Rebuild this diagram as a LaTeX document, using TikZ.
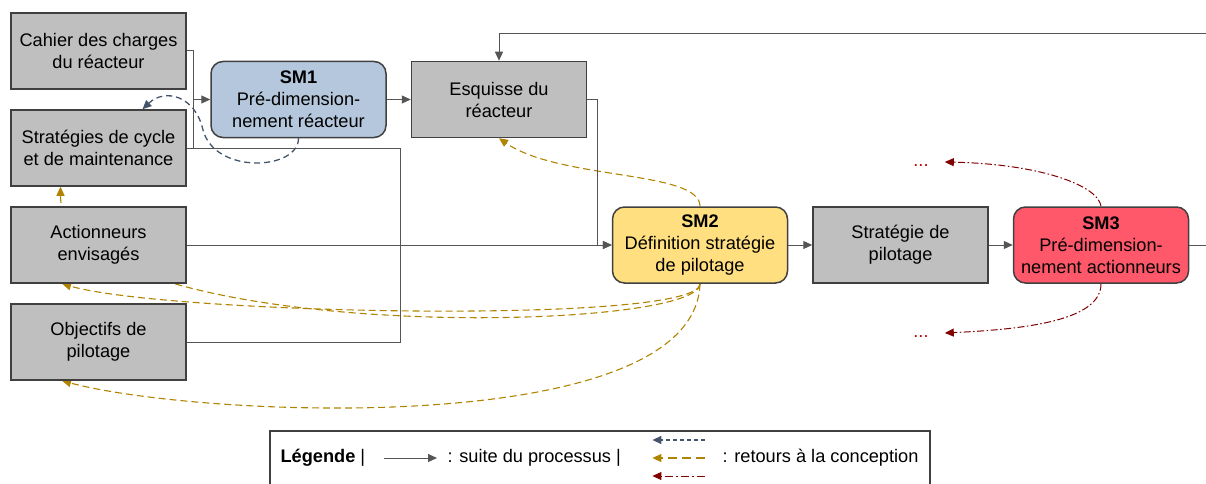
\documentclass[tikz,border=0pt]{standalone}
\usepackage{fontspec}
\setmainfont{Liberation Sans}
\usetikzlibrary{positioning, arrows.meta, backgrounds}

\definecolor{boxgray}{RGB}{191,191,191}
\definecolor{boxline}{RGB}{64,64,64}
\definecolor{sm1blue}{RGB}{180,199,220}
\definecolor{sm2yellow}{RGB}{255,223,128}
\definecolor{sm3red}{RGB}{255,88,106}
\definecolor{procline}{RGB}{85,85,85}
\definecolor{retourblue}{RGB}{68,84,106}
\definecolor{retourgold}{RGB}{176,132,0}
\definecolor{retourred}{RGB}{128,0,0}
\definecolor{dotsred}{RGB}{192,0,0}

\begin{document}
\begin{tikzpicture}[x=1pt, y=-1pt, node distance=19.5pt and 24pt,
        every node/.style={font=\fontsize{18.2}{22}\selectfont},
        >={Triangle[length=9pt, width=8pt]},
        bloc/.style={draw=boxline, line width=1.5pt, rectangle, align=center, fill=boxgray, minimum width=175pt, minimum height=76pt},
        sousmod/.style={bloc, rounded corners=12pt},
        suite/.style={draw=procline, line width=1pt},
        retourA/.style={draw=retourblue, line width=1.3pt, dash pattern=on 6pt off 4pt},
        retourB/.style={draw=retourgold, line width=1.1pt, dash pattern=on 7pt off 4pt},
        retourC/.style={draw=retourred, line width=1pt, dash pattern=on 7pt off 2.5pt on 1.5pt off 2.5pt}]
    \useasboundingbox (0,0) rectangle (1206,484);

    % Donnees d'entree
    \node (Cahier) [bloc] at (98.5,51) {Cahier des charges\\du réacteur};
    \node (Strategies) [bloc, below=of Cahier] {Stratégies de cycle\\et de maintenance};
    \node (Actionneurs) [bloc, below=of Strategies] {Actionneurs\\envisagés};
    \node (Objectifs) [bloc, below=of Actionneurs] {Objectifs de\\pilotage};

    % Sous-modeles et resultats
    \node (SM1) [sousmod, fill=sm1blue] at (298.5,99.5) {\textbf{SM1}\\Pré-dimension-\\nement réacteur};
    \node (Esquisse) [bloc, right=of SM1] {Esquisse du\\réacteur};
    \node (SM2) [sousmod, fill=sm2yellow] at (700,245) {\textbf{SM2}\\Définition stratégie\\de pilotage};
    \node (Pilotage) [bloc, right=of SM2] {Stratégie de\\pilotage};
    \node (SM3) [sousmod, fill=sm3red, right=of Pilotage] {\textbf{SM3}\\Pré-dimension-\\nement actionneurs};

    % Suites inconnues
    \node (DotsHaut) [text=dotsred, inner xsep=16pt] at (921,162) {\strut...};
    \node (DotsBas) [text=dotsred, inner xsep=16pt] at (921,333) {\strut...};

    % Suite du processus
    \coordinate (Jonction) at (400,245);
    \draw[->, suite] (Cahier.east) -- ++(7,0) |- (SM1.west);
    \draw[suite] (Strategies.east) -- ++(7,0) |- (SM1.west);
    \draw[->, suite] (SM1) -- (Esquisse);
    \draw[->, suite] (Esquisse.east) -- ++(10,0) |- (SM2.west);
    \draw[->, suite] (Actionneurs) -- (SM2);
    \draw[suite] (Strategies.east) -| (Jonction);
    \draw[suite] (Objectifs.east) -| (Jonction);
    \draw[->, suite] (SM2) -- (Pilotage);
    \draw[->, suite] (Pilotage) -- (SM3);
    \draw[->, suite] (SM3.east) -- ++(40,0) |- ([yshift=27pt]Esquisse.north) -- (Esquisse.north);

    % Retours a la conception
    \begin{scope}[on background layer]
        \draw[->, retourA] (SM1.south) .. controls +(0,32) and +(12,45) .. (203,130) .. controls +(-8,-35) and +(22,-21) .. ([xshift=44pt]Strategies.north);
        \draw[->, retourB] (SM2.north) .. controls +(0,-36) and +(61,42) .. (Esquisse.south);
        \draw[->, retourB] (SM2.south) .. controls +(0,51) and +(0,158) .. ([xshift=-38pt]Strategies.south);
        \draw[->, retourB] (SM2.south) .. controls +(0,41) and +(108,31) .. ([xshift=-36.5pt]Actionneurs.south);
        \draw[->, retourB] (SM2.south) .. controls +(-5,156) and +(138,37) .. ([xshift=-36.5pt]Objectifs.south);
        \draw[->, retourC] (SM3.north) .. controls +(-3,-21) and +(95,2) .. (DotsHaut.east);
        \draw[->, retourC] (SM3.south) .. controls +(0,36) and +(85,-4) .. (DotsBas.east);
    \end{scope}

    % Legende
    \node (Legende) [draw=boxline, line width=1.2pt, minimum width=660pt, minimum height=80pt] at (600,471) {};
    \node (LegTitre) [anchor=west] at (277,458) {\textbf{Légende} |};
    \node (LegSuite) [anchor=west] at (444,458) {: suite du processus |};
    \node (LegRetour) [anchor=west] at (719,458) {: retours à la conception};
    \draw[->, suite, shorten <=15pt, shorten >=7pt] (LegTitre.east) -- (LegSuite.west);
    \draw[->, retourA, dash pattern=on 4pt off 3pt, shorten <=14pt, shorten >=28pt] ([yshift=18pt]LegRetour.west) -- ([yshift=18pt]LegSuite.east);
    \draw[->, retourB, dash pattern=on 9pt off 5pt, shorten <=14pt, shorten >=28pt] (LegRetour.west) -- (LegSuite.east);
    \draw[->, retourC, dash pattern=on 8pt off 3pt on 2pt off 3pt, shorten <=14pt, shorten >=28pt] ([yshift=-18pt]LegRetour.west) -- ([yshift=-18pt]LegSuite.east);
\end{tikzpicture}
\end{document}
